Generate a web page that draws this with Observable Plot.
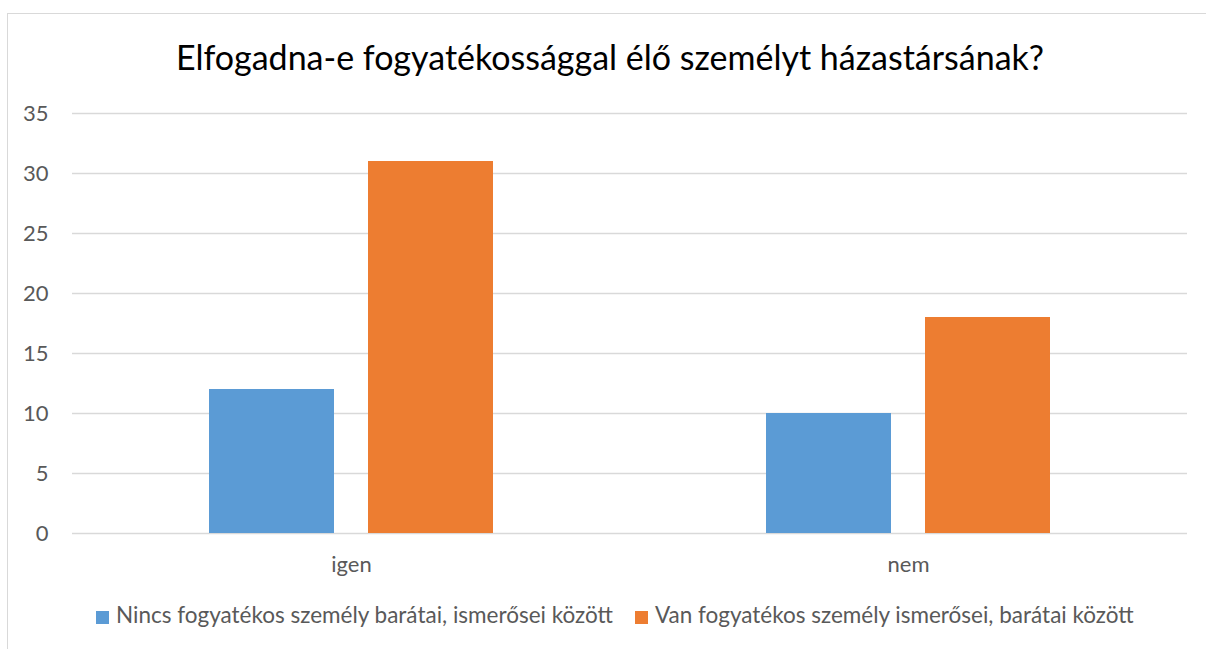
<!DOCTYPE html>
<html>
<head>
<meta charset="utf-8">
<script src="https://cdn.jsdelivr.net/npm/d3@7"></script>
<script src="https://cdn.jsdelivr.net/npm/@observablehq/plot@0.6"></script>
<style>
  html, body { margin: 0; padding: 0; background: #fff; }
  body { width: 1206px; height: 649px; position: relative; overflow: hidden; font-family: Lato, "Open Sans", sans-serif; }
  #frame { position: absolute; left: 7px; top: 13px; width: 1210px; height: 700px; border-left: 1.5px solid #d9d9d9; border-top: 1.5px solid #d9d9d9; box-sizing: border-box; }
  #title { position: absolute; left: 0; width: 1220px; top: 40px; line-height: 34px; text-align: center; font-size: 34px; color: #000; white-space: nowrap; }
  #grid, #chart { position: absolute; left: 0; top: 93px; }
  #legend { position: absolute; top: 604px; left: 96px; font-size: 22.5px; line-height: 22px; color: #595959; white-space: nowrap; display: flex; align-items: center; }
  .sw { display: inline-block; width: 13px; height: 13px; margin-right: 7px; position: relative; top: 2px; }
  .item { display: flex; align-items: center; }
</style>
</head>
<body>
<div id="frame"></div>
<div id="title"></div>
<div id="grid"></div>
<div id="chart"></div>
<div id="legend"></div>
<script>
const titleText = "Elfogadna-e fogyatékossággal élő személyt házastársának?";
const categories = ["igen", "nem"];
const seriesNames = ["Nincs fogyatékos személy barátai, ismerősei között", "Van fogyatékos személy ismerősei, barátai között"];
const seriesColors = ["#5B9BD5", "#ED7D31"];
const valuesNincs = [12, 10];
const valuesVan = [31, 18];
const yTicks = [0, 5, 10, 15, 20, 25, 30, 35];

const data = [];
categories.forEach((c, i) => {
  data.push({cat: c, series: seriesNames[0], value: valuesNincs[i]});
  data.push({cat: c, series: seriesNames[1], value: valuesVan[i]});
});

document.getElementById("title").textContent = titleText;

const common = {
  width: 1206,
  height: 490,
  marginLeft: 72,
  marginRight: 19,
  marginTop: 20,
  marginBottom: 50,
  style: { fontFamily: "Lato, 'Open Sans', sans-serif", fontSize: "22px", color: "#595959", background: "transparent" }
};

// background: y axis + gridlines across the full plot width
const grid = Plot.plot({
  ...common,
  y: { domain: [0, 35], ticks: yTicks, label: null, tickSize: 0, tickPadding: 24 },
  marks: [
    Plot.ruleY(yTicks, { stroke: "#d9d9d9", strokeWidth: 1.5 })
  ]
});
document.getElementById("grid").appendChild(grid);

// foreground: grouped bars
const chart = Plot.plot({
  ...common,
  fx: { domain: categories, paddingInner: 0.49, paddingOuter: 0.245, label: null, tickSize: 0, tickPadding: 23 },
  x: { domain: seriesNames, paddingInner: 0.214, paddingOuter: 0, axis: null },
  y: { domain: [0, 35], axis: null },
  color: { domain: seriesNames, range: seriesColors },
  marks: [
    Plot.barY(data, { fx: "cat", x: "series", y: "value", fill: "series" })
  ]
});
document.getElementById("chart").appendChild(chart);

const legend = document.getElementById("legend");
seriesNames.forEach((s, i) => {
  const item = document.createElement("span");
  item.className = "item";
  if (i > 0) item.style.marginLeft = "22px";
  const sw = document.createElement("span");
  sw.className = "sw";
  sw.style.background = seriesColors[i];
  const t = document.createElement("span");
  t.textContent = s;
  item.appendChild(sw);
  item.appendChild(t);
  legend.appendChild(item);
});
</script>
</body>
</html>
